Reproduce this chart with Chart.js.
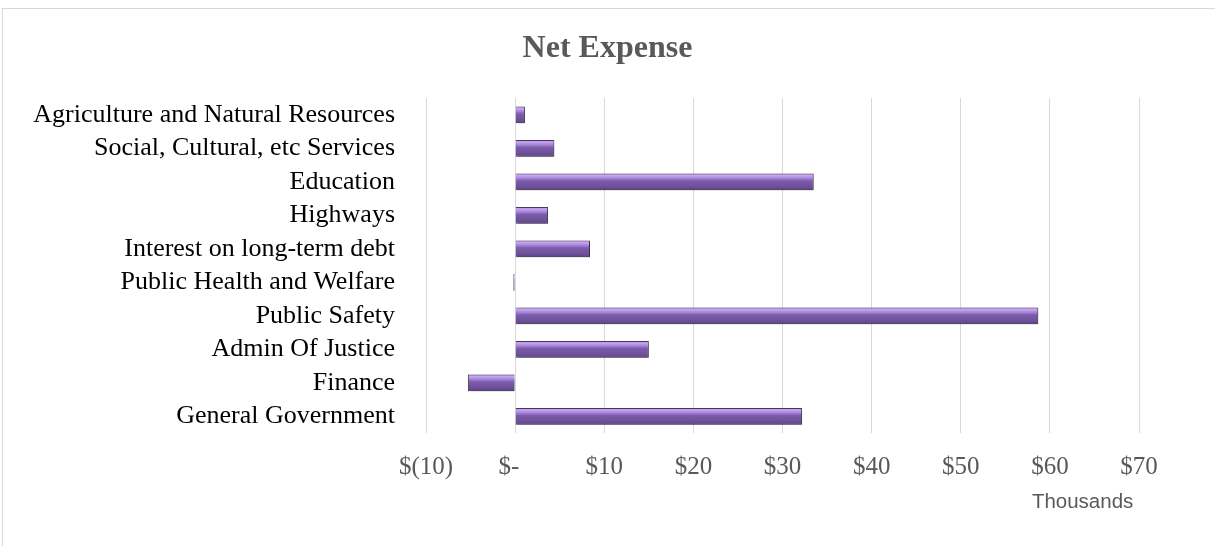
<!DOCTYPE html>
<html>
<head>
<meta charset="utf-8">
<script src="https://cdn.jsdelivr.net/npm/chart.js@4"></script>
<style>
html,body{margin:0;padding:0;background:#fff;overflow:hidden;}
#frame{position:absolute;left:2px;top:8px;width:1240px;height:560px;border:1px solid #d9d9d9;}
#wrap{position:absolute;left:0;top:0;width:1215px;height:546px;}
</style>
</head>
<body>
<div id="frame"></div>
<div id="wrap"><canvas id="netChart"></canvas></div>
<script>

/* ---------- DATA ---------- */

const categories = [
"Agriculture and Natural Resources",
"Social, Cultural, etc Services",
"Education",
"Highways",
"Interest on long-term debt",
"Public Health and Welfare",
"Public Safety",
"Admin Of Justice",
"Finance",
"General Government"
];

// net expense, thousands of $
const netExpense = [1.1, 4.4, 33.5, 3.7, 8.4, -0.2, 58.7, 15.0, -5.3, 32.2];

const xTicks = [-10, 0, 10, 20, 30, 40, 50, 60, 70];


/* ---------- HELPERS ---------- */

function moneyLabel(v){
if(v < 0) return "$(" + (-v) + ")"
if(v === 0) return "$-  "
return "$" + v
}

// bevel-ish vertical gradient for each bar
function barFill(c){
const chart = c.chart
const y = chart.scales.y
if(!chart.chartArea || !y || y.ticks.length < 2) return "#8064a2"
const step = Math.abs(y.getPixelForTick(1) - y.getPixelForTick(0))
const h = step * 0.5
const yc = y.getPixelForValue(c.dataIndex)
const g = chart.ctx.createLinearGradient(0, yc - h/2, 0, yc + h/2)
g.addColorStop(0, "#9476c4")
g.addColorStop(0.12, "#c8a6f4")
g.addColorStop(0.3, "#a583d6")
g.addColorStop(0.45, "#7c5cab")
g.addColorStop(0.85, "#6b4e97")
g.addColorStop(1, "#503a74")
return g
}

const shadowPlugin = {
id:"barShadow",
beforeDatasetsDraw(chart){
const ctx = chart.ctx
ctx.save()
ctx.shadowColor = "rgba(0,0,0,0.35)"
ctx.shadowBlur = 4
ctx.shadowOffsetX = 1
ctx.shadowOffsetY = 2
},
afterDatasetsDraw(chart){
chart.ctx.restore()
}
}


/* ---------- CHART ---------- */

const ctx = document.getElementById("netChart").getContext("2d")

new Chart(ctx,{
type:"bar",
data:{
labels:categories,
datasets:[{
label:"Net Expense",
data:netExpense,
backgroundColor:barFill,
borderColor:"#4a3a63",
borderWidth:1,
categoryPercentage:1,
barPercentage:0.5
}]
},
plugins:[shadowPlugin],
options:{
indexAxis:"y",
responsive:true,
maintainAspectRatio:false,
animation:false,
layout:{padding:{left:0,right:0,top:0,bottom:31.6}},
plugins:{
legend:{display:false},
tooltip:{enabled:false},
title:{
display:true,
text:"Net Expense",
color:"#595959",
font:{family:"'Liberation Serif', 'Times New Roman', serif",size:32,weight:"bold"},
padding:{top:30,bottom:29.6}
}
},
scales:{
x:{
min:-10,
max:70,
afterBuildTicks(scale){
scale.ticks = xTicks.map(v => ({value:v}))
},
afterFit(scale){ scale.height = 81.4 },
grid:{color:"#d9d9d9",lineWidth:1,drawTicks:false},
border:{display:false},
ticks:{
padding:19,
color:"#595959",
font:{family:"'Liberation Serif', 'Times New Roman', serif",size:25},
callback:(v) => moneyLabel(v)
},
title:{
display:true,
text:"Thousands ",
align:"end",
color:"#595959",
font:{family:"'Liberation Sans', Arial, sans-serif",size:20.5},
padding:{top:0,bottom:0}
}
},
y:{
afterFit(scale){ scale.width = 426 },
grid:{display:false},
border:{display:false},
ticks:{
autoSkip:false,
padding:23,
color:"#000000",
font:{family:"'Liberation Serif', 'Times New Roman', serif",size:26}
}
},
// empty right-hand gutter so the plot ends at $70 while the title stays centred on the page
gutter:{
type:"linear",
position:"right",
display:true,
afterFit(scale){ scale.width = 76 },
grid:{display:false},
border:{display:false},
ticks:{display:false}
}
}
}
})

</script>
</body>
</html>
